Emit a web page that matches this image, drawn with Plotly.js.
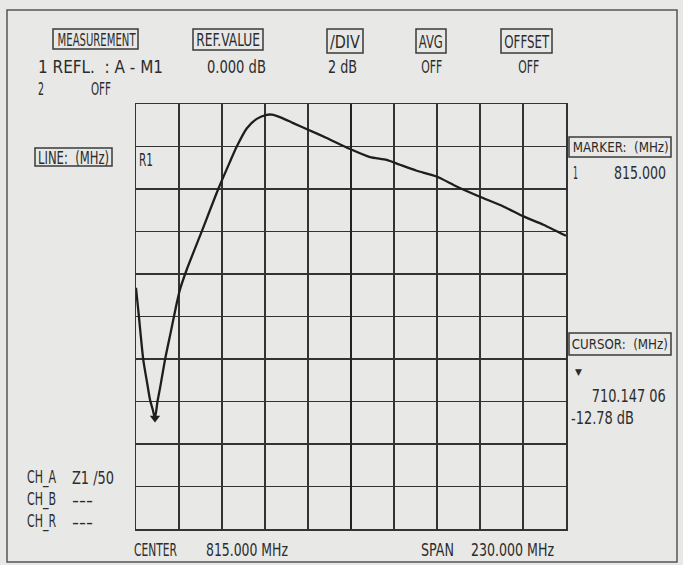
<!DOCTYPE html>
<html>
<head>
<meta charset="utf-8">
<script src="https://cdn.plot.ly/plotly-3.0.1.min.js"></script>
<style>
html,body{margin:0;padding:0;background:#e8e8e6;}
#chart{width:683px;height:565px;}
</style>
</head>
<body>
<div id="chart"></div>
<script>
// Frequency axis (MHz): center 815, span 230
const freqMHz = [700, 701.5, 703.9, 706, 707.5, 709, 710.15, 711.5, 713, 715.5, 718.5, 721.8, 723.5, 727.1,
  734.8, 744.0, 750.3, 753.9, 759.2, 764.6, 769.9, 772.6, 778, 784.1, 792.1, 802.0, 814.5, 825.2,
  834.1, 841.2, 850.1, 860.8, 871.5, 883.6, 896.5, 907.2, 917.9, 930];
// Reflection (dB), 2 dB/div, REF 0 dB at R1
const reflDb = [-6.65, -7.95, -10.04, -11.15, -11.92, -12.4, -12.78, -12.0, -11.3, -10.04, -8.77, -7.37, -6.74, -5.80,
  -4.08, -2.00, -0.71, 0.0, 0.85, 1.30, 1.49, 1.50, 1.35, 1.10, 0.79, 0.40, -0.12, -0.50,
  -0.63, -0.86, -1.14, -1.41, -1.88, -2.35, -2.82, -3.29, -3.68, -4.20];
const cursorFreq = [710.147];
const cursorDb = [-12.78];
const centerMHz = 815;
const spanMHz = 230;
const refDb = 0;
const perDiv = 2;

const xMin = centerMHz - spanMHz / 2, xMax = centerMHz + spanMHz / 2;
const yMin = refDb - 9 * perDiv, yMax = refDb + perDiv;

// plot area in pixels
const L = 136, R = 566, T = 104, B = 529;
const W = 683, H = 565;
function px(x) { return (x - L) / (R - L); }
function py(y) { return (B - y) / (B - T); }

const FONT = "'DejaVu Sans Condensed', 'DejaVu Sans', sans-serif";
const TXT = '#2c2c2c';
const FS = 18;

// [text, left px, right px, center y px, anchor, font size]
const labels = [
  ['MEASUREMENT', 57, 135, 39, 'c'],
  ['1 REFL.\u00a0\u00a0: A - M1', 37, 162, 66, 'l'],
  ['2', 37, 43, 88, 'l'],
  ['OFF', 90, 110, 88, 'l'],
  ['REF.VALUE', 196, 260, 39, 'c'],
  ['0.000 dB', 207, 266, 66, 'c'],
  ['/DIV', 330, 360, 41, 'c'],
  ['2 dB', 327, 356, 66, 'l'],
  ['AVG', 419, 443, 41, 'c'],
  ['OFF', 421, 442, 66, 'c'],
  ['OFFSET', 504, 549, 41, 'c'],
  ['OFF', 518, 539, 66, 'c'],
  ['LINE:\u00a0\u00a0(MHz)', 38, 109, 157, 'c'],
  ['R1', 138, 152, 160, 'l'],
  ['MARKER:\u00a0\u00a0(MHz)', 572, 668, 147, 'c', 14.5],
  ['1', 572, 577, 172, 'l'],
  ['815.000', 615, 667, 172, 'r'],
  ['CURSOR:\u00a0\u00a0(MHz)', 572, 668, 344, 'c', 14.5],
  ['710.147 06', 593, 667, 395, 'r'],
  ['-12.78 dB', 570, 633, 417, 'l'],
  ['CH_A', 26, 55, 477, 'l'],
  ['Z1 /50', 71, 113, 477, 'l'],
  ['CH_B', 26, 55, 499, 'l'],
  ['---', 71, 92, 499, 'l'],
  ['CH_R', 26, 55, 521, 'l'],
  ['---', 71, 92, 521, 'l'],
  ['CENTER', 133, 176, 549, 'l'],
  ['815.000 MHz', 205, 287, 549, 'l'],
  ['SPAN', 420, 453, 549, 'l'],
  ['230.000 MHz', 470, 553, 549, 'l']
];
// boxed headers: [left, right, top, bottom] px
const boxes = [
  [53, 138, 29, 49], [193, 263, 29, 50], [327, 363, 29, 53], [416, 446, 29, 53], [501, 552, 29, 53],
  [35, 112, 148, 166], [569, 671, 137, 157], [569, 671, 333, 355]
];

const annotations = labels.map(l => {
  const a = l[4];
  const xp = a === 'l' ? l[1] : (a === 'r' ? l[2] : (l[1] + l[2]) / 2);
  const anc = a === 'l' ? 'left' : (a === 'r' ? 'right' : 'center');
  return {
    text: l[0], xref: 'paper', yref: 'paper', x: px(xp), y: py(l[3]),
    xanchor: anc, align: anc, yanchor: 'middle', showarrow: false, borderpad: 0,
    font: {family: FONT, size: l[5] || FS, color: TXT}
  };
});
annotations.push({
  text: '▼', xref: 'paper', yref: 'paper', x: px(578), y: py(372),
  xanchor: 'center', yanchor: 'middle', showarrow: false, borderpad: 0,
  font: {family: 'DejaVu Sans', size: 9, color: TXT}
});

const shapes = [
  {type: 'rect', xref: 'paper', yref: 'paper', x0: px(7), x1: px(677), y0: py(10), y1: py(562),
   line: {color: '#555', width: 1.5}, layer: 'below'},
  {type: 'line', xref: 'x', yref: 'paper', x0: centerMHz, x1: centerMHz, y0: 0, y1: 1,
   line: {color: '#222', width: 2}}
].concat(boxes.map(b => ({
  type: 'rect', xref: 'paper', yref: 'paper', x0: px(b[0]), x1: px(b[1]), y0: py(b[3]), y1: py(b[2]),
  line: {color: '#3a3a3a', width: 1.5}
})));

const traces = [
  {x: freqMHz, y: reflDb, type: 'scatter', mode: 'lines',
   line: {color: '#1e1e1e', width: 2.3, shape: 'spline', smoothing: 0.6}, hoverinfo: 'none'},
  {x: cursorFreq, y: cursorDb, type: 'scatter', mode: 'markers',
   marker: {symbol: 'triangle-down', size: 9, color: '#1e1e1e'}, hoverinfo: 'none'}
];

const layout = {
  width: W, height: H,
  margin: {l: L, r: W - R, t: T, b: H - B, pad: 0},
  paper_bgcolor: '#e8e8e6', plot_bgcolor: '#e8e8e6',
  showlegend: false,
  xaxis: {range: [xMin, xMax], tick0: xMin, dtick: spanMHz / 10, showticklabels: false, ticks: '',
    showgrid: true, gridcolor: '#333', gridwidth: 1.3, zeroline: false,
    showline: true, linecolor: '#333', linewidth: 1.5, mirror: true, fixedrange: true},
  yaxis: {range: [yMin, yMax], tick0: yMin, dtick: perDiv, showticklabels: false, ticks: '',
    showgrid: true, gridcolor: '#333', gridwidth: 1.3, zeroline: false,
    showline: true, linecolor: '#333', linewidth: 1.5, mirror: true, fixedrange: true},
  annotations: annotations,
  shapes: shapes
};

Plotly.newPlot('chart', traces, layout, {staticPlot: true, displayModeBar: false}).then(() => {
  const texts = document.querySelectorAll('#chart .annotation-text');
  texts.forEach((t, i) => {
    if (i < labels.length) {
      t.setAttribute('textLength', labels[i][2] - labels[i][1]);
      t.setAttribute('lengthAdjust', 'spacingAndGlyphs');
    }
  });
});
</script>
</body>
</html>
